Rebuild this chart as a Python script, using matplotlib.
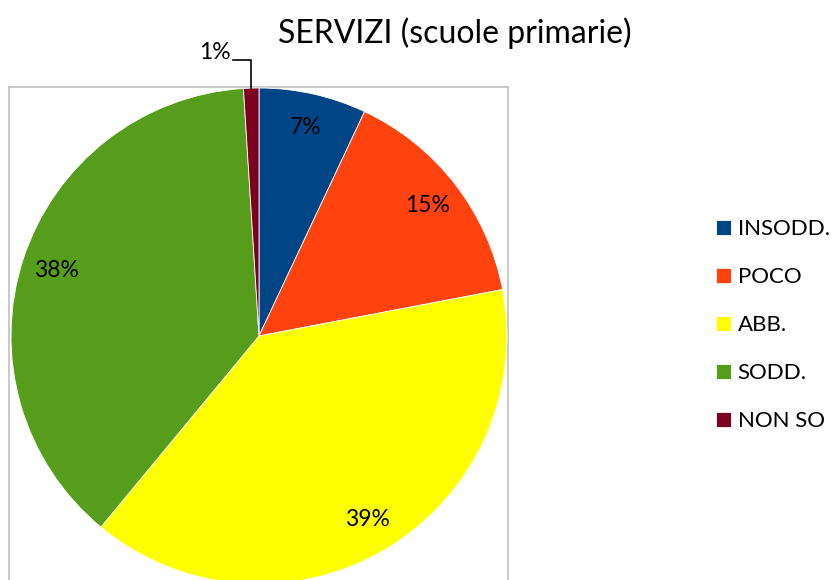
import matplotlib
matplotlib.use("Agg")
import matplotlib.pyplot as plt
from matplotlib.lines import Line2D
import numpy as np

categories = ["INSODD.", "POCO", "ABB.", "SODD.", "NON SO"]
values = [7, 15, 39, 38, 1]
colors = ["#004586", "#FF420E", "#FFFF00", "#579D1C", "#7E0021"]
title = "SERVIZI (scuole primarie)"

plt.rcParams['font.family'] = ['Lato', 'DejaVu Sans']

W, H = 833, 580
fig = plt.figure(figsize=(W / 100, H / 100), dpi=100)

cx, cy, r = 259, 336, 248
ax = fig.add_axes([(cx - r) / W, (H - cy - r) / H, 2 * r / W, 2 * r / H])
wedges, texts, autotexts = ax.pie(
    values, colors=colors, startangle=90, counterclock=False,
    autopct=lambda p: f"{p:.0f}%", pctdistance=0.86,
    wedgeprops=dict(edgecolor="white", linewidth=0.6),
    textprops=dict(fontsize=16.5, color="black"))
ax.set_xlim(-1, 1)
ax.set_ylim(-1, 1)
ax.set_aspect("equal")
ax.axis("off")

# small slice label moved outside with leader line
w = wedges[-1]
mid = np.deg2rad((w.theta1 + w.theta2) / 2)
lx = np.cos(mid)
t = autotexts[-1]
t.set_position((-0.178, 1.145))
ax.add_line(Line2D([-0.105, lx, lx], [1.113, 1.113, 1.0], color="black",
                   linewidth=1.2, clip_on=False))
t.set_clip_on(False)

# plot area frame
fcol = "#BFBFBF"
fig.add_artist(Line2D([9 / W, 9 / W], [0, 1 - 87 / H], color=fcol, lw=1.2, transform=fig.transFigure))
fig.add_artist(Line2D([508 / W, 508 / W], [0, 1 - 87 / H], color=fcol, lw=1.2, transform=fig.transFigure))
fig.add_artist(Line2D([9 / W, 508 / W], [1 - 87 / H, 1 - 87 / H], color=fcol, lw=1.2, transform=fig.transFigure))
ax.set_zorder(2)

fig.text(455 / W, 1 - 33 / H, title, ha="center", va="center", fontsize=23)

fig.legend(wedges, categories, loc="upper left", bbox_to_anchor=(716 / W, 1 - 219 / H),
           frameon=False, fontsize=16, handlelength=0.68, handleheight=0.68,
           handletextpad=0.3, labelspacing=1.26, borderaxespad=0, borderpad=0)

fig.savefig("out.png", dpi=100)
